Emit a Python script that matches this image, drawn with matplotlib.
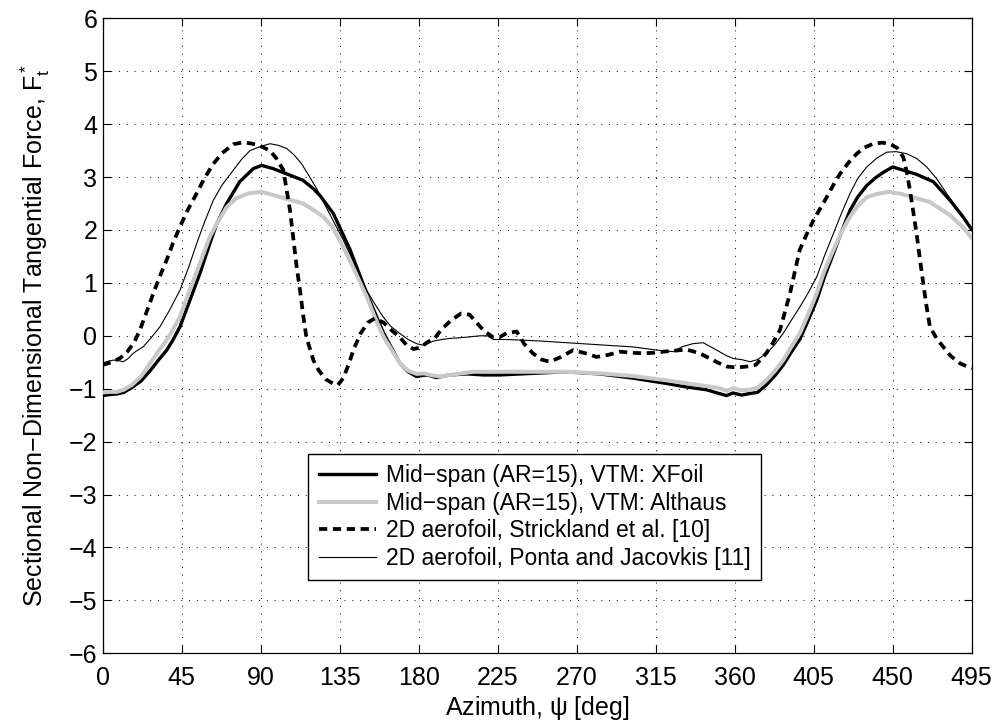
import matplotlib
matplotlib.use("Agg")
import matplotlib.pyplot as plt
import numpy as np

plt.rcParams['font.family'] = ['Liberation Sans', 'DejaVu Sans']
plt.rcParams['mathtext.fontset'] = 'custom'
plt.rcParams['mathtext.rm'] = 'Liberation Sans'
plt.rcParams['mathtext.it'] = 'Liberation Sans'
plt.rcParams['mathtext.bf'] = 'Liberation Sans:bold'

# ---------------- data (azimuth deg, F_t*) ----------------
xfoil_psi = [0, 4, 8, 12, 17, 22, 27, 32, 36.5, 40, 44, 50, 55.4, 61, 65, 70.6, 78, 85.8, 90.5,
             97, 104.8, 114, 120, 124, 131.4, 141, 150.4, 160, 169.3, 174, 178.8, 182, 185,
             190, 197.8, 207.3, 216.8, 226, 245, 264, 283, 302, 321, 333, 344, 350, 355.4,
             359, 364, 368.7, 373, 378, 383, 387.7, 392, 397.2, 402, 406.7, 411, 416.2, 421,
             425.7, 430, 435.2, 440, 444.7, 450, 456, 463.7, 473.2, 482.7, 490, 495]
xfoil_F = [-1.13, -1.11, -1.10, -1.07, -0.97, -0.85, -0.66, -0.45, -0.27, -0.08, 0.17, 0.70, 1.18,
           1.74, 2.12, 2.50, 2.91, 3.16, 3.22, 3.16, 3.06, 2.94, 2.78, 2.64, 2.31, 1.62, 0.80,
           0.05, -0.52, -0.68, -0.77, -0.75, -0.74, -0.79, -0.74, -0.72, -0.74, -0.74, -0.71,
           -0.68, -0.72, -0.80, -0.90, -0.97, -1.02, -1.08, -1.13, -1.08, -1.12, -1.09, -1.07,
           -0.93, -0.75, -0.55, -0.32, -0.06, 0.30, 0.67, 1.10, 1.55, 1.98, 2.37, 2.62, 2.84,
           2.98, 3.09, 3.19, 3.13, 3.05, 2.91, 2.56, 2.25, 2.01]

althaus_psi = [0, 4, 8, 12, 17, 22, 27, 32, 36.5, 40, 44, 50, 55.4, 61, 65, 70.6, 76, 83, 90.5,
               97, 104.8, 114, 120, 125.7, 131, 137, 144, 150.4, 155, 160, 169.3, 174, 178.8,
               183, 188, 192, 197.8, 211, 226, 245, 264, 283, 302, 321, 333, 344, 350, 355.4,
               359, 364, 368.7, 373, 378, 383, 387.7, 392, 397.2, 402, 406.7, 411, 416.2, 421,
               425.7, 430, 435.2, 441, 448, 455, 461.6, 471, 482.7, 490, 495]
althaus_F = [-1.07, -1.06, -1.06, -1.02, -0.92, -0.76, -0.52, -0.28, -0.08, 0.12, 0.36, 0.90,
             1.37, 1.87, 2.12, 2.43, 2.60, 2.69, 2.72, 2.66, 2.59, 2.50, 2.38, 2.25, 2.05, 1.68,
             1.20, 0.74, 0.35, -0.02, -0.52, -0.66, -0.72, -0.71, -0.75, -0.77, -0.74, -0.68,
             -0.68, -0.68, -0.68, -0.71, -0.76, -0.84, -0.90, -0.95, -0.98, -1.04, -0.99, -1.03,
             -1.02, -0.98, -0.84, -0.66, -0.46, -0.22, 0.05, 0.42, 0.80, 1.22, 1.62, 1.97, 2.25,
             2.45, 2.62, 2.68, 2.72, 2.68, 2.62, 2.53, 2.28, 2.05, 1.85]

strick_psi = [0, 5, 10, 14, 18, 21.2, 25, 28.8, 32.5, 36.4, 40, 44, 48, 53.5, 58, 63, 68, 74.4,
              79, 83.9, 89, 95.3, 99, 102.9, 106.7, 110.5, 112.4, 114.3, 116, 120, 123, 127,
              131, 134, 137, 140, 143, 147, 151, 155, 160, 164, 169, 173, 177, 181, 185, 189,
              193, 198, 204, 209, 213, 217, 222, 226, 230, 235.8, 240, 245, 250, 254.8, 261,
              268, 275, 281.4, 288, 294.7, 301, 308, 314, 319.3, 326, 332.6, 340, 346, 350,
              355.4, 361, 367, 372, 378, 382, 385.8, 388.6, 391.5, 394.3, 397, 401, 404.8, 408.6,
              412.4, 416, 420, 425, 429.5, 434, 439, 444, 448.4, 452.5, 456, 458, 459.8, 461.7,
              463.6, 465.5, 467.4, 469.3, 471.2, 475, 478.8, 483, 488.3, 495]
strick_F = [-0.55, -0.50, -0.42, -0.30, -0.12, 0.11, 0.45, 0.80, 1.12, 1.43, 1.75, 2.06, 2.35,
            2.69, 2.98, 3.25, 3.45, 3.62, 3.65, 3.64, 3.60, 3.50, 3.35, 3.13, 2.37, 1.30, 0.86,
            0.36, -0.02, -0.46, -0.65, -0.82, -0.90, -0.93, -0.80, -0.55, -0.25, 0.05, 0.25,
            0.33, 0.25, 0.12, -0.02, -0.17, -0.25, -0.22, -0.12, -0.05, 0.12, 0.28, 0.42, 0.40,
            0.25, 0.10, -0.02, -0.03, 0.05, 0.08, -0.15, -0.33, -0.45, -0.49, -0.40, -0.27,
            -0.33, -0.40, -0.36, -0.30, -0.32, -0.33, -0.32, -0.30, -0.28, -0.26, -0.33, -0.43,
            -0.50, -0.58, -0.60, -0.58, -0.55, -0.33, -0.12, 0.11, 0.45, 0.80, 1.22, 1.62, 1.92,
            2.18, 2.40, 2.62, 2.84, 3.06, 3.28, 3.44, 3.56, 3.63, 3.65, 3.63, 3.55, 3.38, 3.10,
            2.75, 2.35, 1.93, 1.45, 0.99, 0.55, 0.17, -0.05, -0.21, -0.38, -0.52, -0.62]

ponta_psi = [0, 3, 6, 9, 11.7, 14.5, 17.4, 20, 23, 28, 32.6, 38, 44, 49, 53.5, 58, 63, 68, 74.4,
             79, 83.9, 90, 95.3, 100, 104.8, 109, 113.3, 117, 121.9, 129, 137, 144, 150.4, 155,
             159.7, 164, 169, 174, 178.9, 183, 188.3, 193, 197.8, 206, 215, 219, 222.5, 230,
             237.7, 250, 264, 283, 302, 315.6, 325, 329.8, 336, 342, 349.7, 355, 359.2, 364,
             368.7, 373, 378.2, 383, 387.7, 392, 397.2, 402, 406.7, 411, 416.2, 421, 425.7, 430,
             435.2, 441, 446.6, 452, 458, 463.7, 469.4, 475, 480.7, 487, 495]
ponta_F = [-0.52, -0.48, -0.46, -0.47, -0.49, -0.43, -0.33, -0.27, -0.21, -0.02, 0.17, 0.48,
           0.86, 1.30, 1.74, 2.15, 2.56, 2.85, 3.13, 3.33, 3.50, 3.58, 3.63, 3.60, 3.54, 3.42,
           3.25, 3.05, 2.78, 2.32, 1.81, 1.32, 0.86, 0.60, 0.36, 0.18, 0.05, -0.07, -0.15, -0.18,
           -0.10, -0.07, -0.05, -0.03, 0.00, 0.00, -0.07, -0.07, -0.08, -0.10, -0.13, -0.17,
           -0.21, -0.27, -0.30, -0.21, -0.15, -0.13, -0.27, -0.37, -0.43, -0.45, -0.49, -0.45,
           -0.33, -0.16, 0.05, 0.28, 0.55, 0.82, 1.11, 1.50, 1.93, 2.33, 2.69, 2.97, 3.19, 3.36,
           3.47, 3.48, 3.44, 3.35, 3.19, 2.97, 2.69, 2.40, 2.00]

series_labels = ["Mid\u2212span (AR=15), VTM: XFoil",
                 "Mid\u2212span (AR=15), VTM: Althaus",
                 "2D aerofoil, Strickland et al. [10]",
                 "2D aerofoil, Ponta and Jacovkis [11]"]

x_ticks = [0, 45, 90, 135, 180, 225, 270, 315, 360, 405, 450, 495]
y_ticks = list(range(-6, 7))

# ---------------- figure ----------------
fig = plt.figure(figsize=(9.97, 7.22), dpi=100)
ax = fig.add_axes([102.7 / 997, 1 - 653.3 / 722, 869 / 997, 635 / 722])

ax.plot(xfoil_psi, xfoil_F, color='black', lw=2.4, label=series_labels[0], zorder=3)
ax.plot(althaus_psi, althaus_F, color='#c8c8c8', lw=2.9, label=series_labels[1], zorder=4)
ax.plot(strick_psi, strick_F, color='black', lw=2.7, linestyle=(0, (2.2, 1.5)),
        label=series_labels[2], zorder=5)
ax.plot(ponta_psi, ponta_F, color='black', lw=0.8, label=series_labels[3], zorder=6)

ax.set_xlim(0, 495)
ax.set_ylim(-6, 6)
ax.set_xticks(x_ticks)
ax.set_yticks(y_ticks)

ax.grid(True, color='black', linestyle=(0, (1, 7)), linewidth=0.7)
ax.tick_params(direction='in', length=5.5, width=0.8, top=True, right=True,
               labelsize=18, colors='black')
ax.tick_params(axis='x', pad=9)
ax.tick_params(axis='y', pad=4)
for s in ax.spines.values():
    s.set_linewidth(0.9)

ax.set_xlabel(r"Azimuth, $\psi$ [deg]", fontsize=18, labelpad=3)
ax.set_ylabel(r"Sectional Non$-$Dimensional Tangential Force, F$^*_{\rm t}$", fontsize=18,
              labelpad=12)

leg = ax.legend(loc='upper left', bbox_to_anchor=((308.3 - 102.7) / 869, (653.3 - 454) / 635),
                borderaxespad=0, fontsize=16.5, frameon=True, fancybox=False,
                edgecolor='black', framealpha=1, handlelength=2.5, handletextpad=0.45,
                labelspacing=0.2, borderpad=0.45)
leg.get_frame().set_linewidth(1.0)

fig.savefig("out.png", dpi=100)
